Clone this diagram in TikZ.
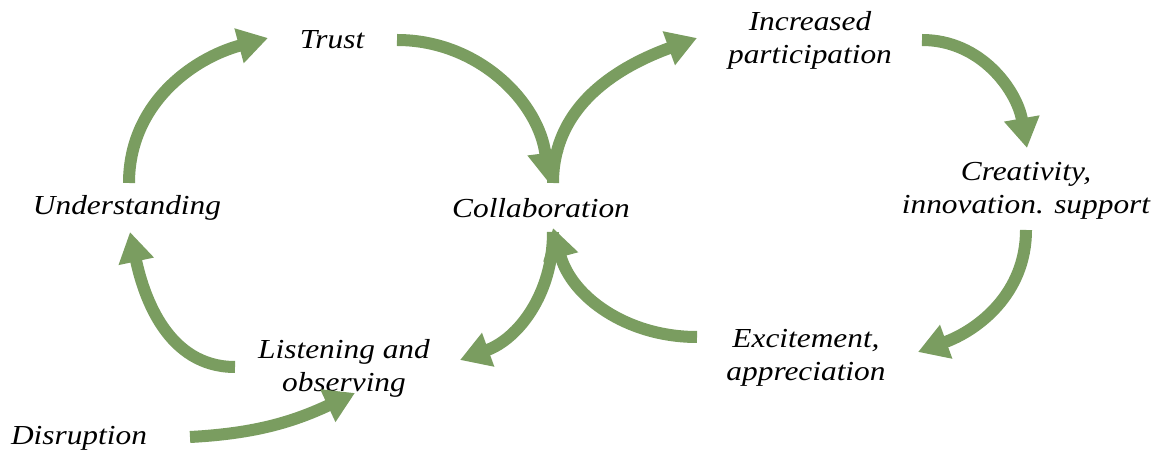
\documentclass[tikz,border=0pt]{standalone}
\usepackage{fontspec}
\setmainfont{Liberation Serif}[FakeStretch=1.14]
\usetikzlibrary{arrows.meta}
\definecolor{arrowgreen}{RGB}{122,157,96}
\tikzset{
  lbl/.style={font=\fontsize{27.5}{33}\selectfont\itshape, align=center, inner sep=0pt},
  flow/.style={draw=arrowgreen, line width=12pt, -{Triangle[length=30pt,width=34pt]}},
}
\begin{document}
\begin{tikzpicture}[x=1pt,y=1pt]
\useasboundingbox (0,0) rectangle (1163,455);
% text nodes
\node[lbl] (trust) at (332,415) {Trust};
\node[lbl] (under) at (127,247) {Understanding};
\node[lbl] (collab) at (541,247) {Collaboration};
\node[lbl] (listen) at (344,87) {Listening and\\observing};
\node[lbl] (disr) at (79,17) {Disruption};
\node[lbl] (incr) at (810,415) {Increased\\participation};
\node[lbl] (creat) at (1026,264) {Creativity,\\innovation. support};
\node[lbl] (excit) at (806,97) {Excitement,\\appreciation};
% arrow end points
\coordinate (a1s) at (129,272); \coordinate (a1e) at (268,417);
\coordinate (a2s) at (397,415); \coordinate (a2e) at (549,272);
\coordinate (a3s) at (553,272); \coordinate (a3e) at (697,417);
\coordinate (a4s) at (922,415); \coordinate (a4e) at (1027,307);
\coordinate (a5s) at (1026,225); \coordinate (a5e) at (918,103);
\coordinate (a6s) at (697,118); \coordinate (a6e) at (553,227);
\coordinate (a7s) at (553,223); \coordinate (a7e) at (460,95);
\coordinate (a8s) at (235,88); \coordinate (a8e) at (130,223);
\coordinate (a9s) at (190,18); \coordinate (a9e) at (355,62);
% arrows
\draw[flow] (a1s) to[out=90,in=195] (a1e);
\draw[flow] (a2s) to[out=0,in=97] (a2e);
\draw[flow] (a3s) to[out=90,in=200] (a3e);
\draw[flow] (a4s) to[out=0,in=100] (a4e);
\draw[flow] (a5s) to[out=-90,in=20] (a5e);
\draw[flow] (a6s) to[out=180,in=-75] (a6e);
\draw[flow] (a7s) to[out=-90,in=20] (a7e);
\draw[flow] (a8s) to[out=180,in=-78] (a8e);
\draw[flow] (a9s) to[out=3,in=205] (a9e);
\end{tikzpicture}
\end{document}
